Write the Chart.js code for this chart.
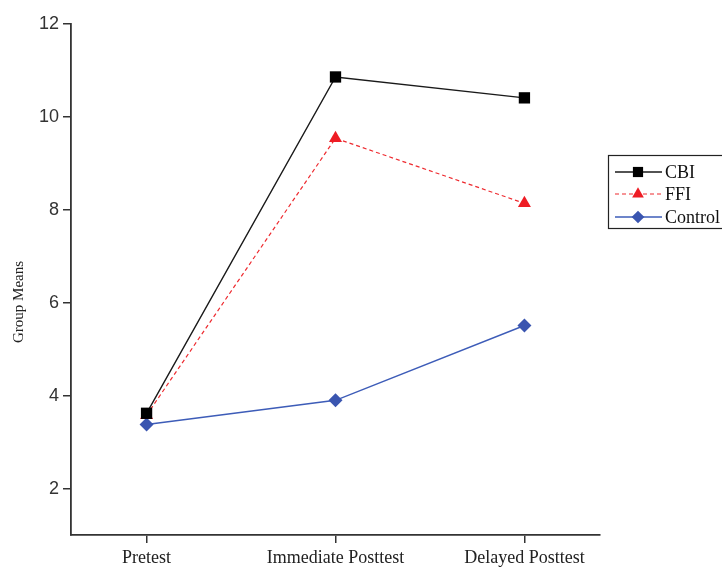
<!DOCTYPE html>
<html>
<head>
<meta charset="utf-8">
<script src="https://cdn.jsdelivr.net/npm/chart.js@4"></script>
<style>
html,body{margin:0;padding:0;background:#fff;}
#c{display:block;}
</style>
</head>
<body>
<canvas id="c" width="722" height="567"></canvas>
<script>
const categories = ["Pretest", "Immediate Posttest", "Delayed Posttest"];
const cbi = [3.62, 10.86, 10.41];
const ffi = [3.58, 9.54, 8.14];
const control = [3.38, 3.90, 5.51];
const yTickValues = [2, 4, 6, 8, 10, 12];
const seriesNames = ["CBI", "FFI", "Control"];
const yTitle = "Group Means";

function toPoints(arr){ return arr.map((v,i)=>({x:i, y:v})); }

const titlePlugin = {
  id: 'yTitle',
  afterDraw(chart){
    const ctx = chart.ctx;
    ctx.save();
    ctx.translate(19, 302);
    ctx.rotate(-Math.PI / 2);
    ctx.font = '15px "Liberation Serif"';
    ctx.fillStyle = '#222';
    ctx.textAlign = 'center';
    ctx.textBaseline = 'middle';
    ctx.fillText(yTitle, 0, 0);
    ctx.restore();
  }
};

const legendPlugin = {
  id: 'customLegend',
  afterDraw(chart){
    const ctx = chart.ctx;
    ctx.save();
    ctx.strokeStyle = '#222';
    ctx.lineWidth = 1.2;
    ctx.strokeRect(608.5, 155.5, 130, 73);
    const rows = [172, 194, 217];
    chart.data.datasets.forEach((ds, i) => {
      const y = rows[i];
      ctx.save();
      ctx.strokeStyle = ds.borderColor;
      ctx.lineWidth = ds.borderWidth;
      ctx.setLineDash(ds.borderDash || []);
      ctx.beginPath();
      ctx.moveTo(615, y);
      ctx.lineTo(662, y);
      ctx.stroke();
      ctx.restore();
      ctx.save();
      ctx.fillStyle = ds.pointBackgroundColor;
      ctx.strokeStyle = ds.pointBorderColor;
      Chart.helpers.drawPoint(ctx, {
        pointStyle: ds.pointStyle,
        radius: ds.pointRadius * 0.9,
        borderWidth: 0
      }, 638, y);
      ctx.restore();
      ctx.fillStyle = '#111';
      ctx.font = '18px "Liberation Serif"';
      ctx.textBaseline = 'middle';
      ctx.textAlign = 'left';
      ctx.fillText(ds.label, 665, y + 1);
    });
    ctx.restore();
  }
};

new Chart(document.getElementById('c'), {
  type: 'line',
  data: {
    datasets: [
      {
        label: seriesNames[0], data: toPoints(cbi),
        borderColor: '#1a1a1a', borderWidth: 1.4,
        pointStyle: 'rect', pointRadius: 8,
        pointBackgroundColor: '#000', pointBorderColor: '#000', pointBorderWidth: 0
      },
      {
        label: seriesNames[1], data: toPoints(ffi),
        borderColor: '#ee2a2f', borderWidth: 1.2, borderDash: [4, 3],
        pointStyle: 'triangle', pointRadius: 7.5,
        pointBackgroundColor: '#ee1c24', pointBorderColor: '#ee1c24', pointBorderWidth: 0
      },
      {
        label: seriesNames[2], data: toPoints(control),
        borderColor: '#3d5cb8', borderWidth: 1.4,
        pointStyle: 'rectRot', pointRadius: 7,
        pointBackgroundColor: '#3a55b0', pointBorderColor: '#3a55b0', pointBorderWidth: 0
      }
    ]
  },
  options: {
    responsive: false,
    animation: false,
    devicePixelRatio: 1,
    layout: { padding: { top: 24, right: 122, left: 0, bottom: 0 } },
    plugins: { legend: { display: false }, tooltip: { enabled: false } },
    elements: { line: { tension: 0 } },
    scales: {
      x: {
        type: 'linear',
        min: -0.4, max: 2.4,
        afterBuildTicks: (s) => { s.ticks = categories.map((c, i) => ({ value: i })); },
        afterFit: (s) => { s.height = 32; },
        grid: { display: true, drawOnChartArea: false, drawTicks: true, tickLength: 8, color: '#333', lineWidth: 1.5 },
        border: { display: true, color: '#333', width: 1.8 },
        ticks: {
          callback: (v) => categories[v],
          font: { family: '"Liberation Serif"', size: 18 },
          color: '#222',
          padding: 4,
          maxRotation: 0,
          autoSkip: false
        }
      },
      y: {
        min: 1, max: 12,
        afterBuildTicks: (s) => { s.ticks = yTickValues.map(v => ({ value: v })); },
        afterFit: (s) => { s.width = 71; },
        grid: { display: true, drawOnChartArea: false, drawTicks: true, tickLength: 8, color: '#333', lineWidth: 1.5 },
        border: { display: true, color: '#333', width: 1.8 },
        ticks: {
          font: { family: '"Liberation Sans"', size: 18 },
          color: '#333',
          padding: 4
        }
      }
    }
  },
  plugins: [legendPlugin, titlePlugin]
});
</script>
</body>
</html>
